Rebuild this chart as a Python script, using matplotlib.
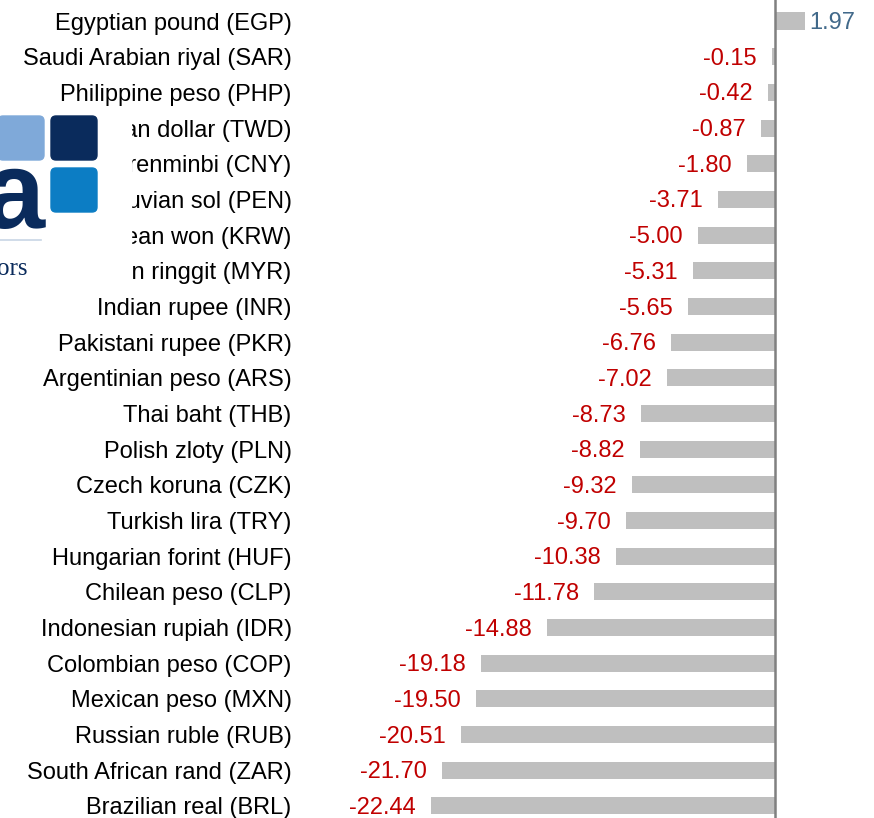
import matplotlib.pyplot as plt
from matplotlib.patches import FancyBboxPatch, Rectangle
import numpy as np

plt.rcParams['font.family'] = ['Liberation Sans', 'DejaVu Sans']

currencies = ['Egyptian pound (EGP)', 'Saudi Arabian riyal (SAR)', 'Philippine peso (PHP)',
              'Taiwan dollar (TWD)', 'Chinese renminbi (CNY)', 'Peruvian sol (PEN)',
              'South Korean won (KRW)', 'Malaysian ringgit (MYR)', 'Indian rupee (INR)',
              'Pakistani rupee (PKR)', 'Argentinian peso (ARS)', 'Thai baht (THB)',
              'Polish zloty (PLN)', 'Czech koruna (CZK)', 'Turkish lira (TRY)',
              'Hungarian forint (HUF)', 'Chilean peso (CLP)', 'Indonesian rupiah (IDR)',
              'Colombian peso (COP)', 'Mexican peso (MXN)', 'Russian ruble (RUB)',
              'South African rand (ZAR)', 'Brazilian real (BRL)']
changes = [1.97, -0.15, -0.42, -0.87, -1.80, -3.71, -5.00, -5.31, -5.65, -6.76, -7.02,
           -8.73, -8.82, -9.32, -9.70, -10.38, -11.78, -14.88, -19.18, -19.50, -20.51,
           -21.70, -22.44]

W, H = 874, 818
fig = plt.figure(figsize=(W / 100, H / 100), dpi=100)
ax = fig.add_axes([300 / W, 0, 1 - 300 / W, 1])

y = np.arange(len(currencies))
ax.barh(y, changes, height=0.48, color='#bfbfbf', zorder=2)
ax.axvline(0, color='#808080', lw=1.8, zorder=3)

for yi, v in zip(y, changes):
    if v < 0:
        ax.annotate(f'{v:.2f}', (v, yi), xytext=(-11, -1.5), textcoords='offset points',
                    ha='right', va='center', fontsize=17, color='#c00000')
    else:
        ax.annotate(f'{v:.2f}', (v, yi), xytext=(3, -1.5), textcoords='offset points',
                    ha='left', va='center', fontsize=17, color='#41698a')

ax.set_xlim(-31, 6.5)
ax.set_ylim(22.34, -0.59)
ax.set_yticks(y)
ax.set_yticklabels(currencies, fontsize=17)
ax.tick_params(axis='y', length=0, pad=6)
ax.set_xticks([])
for s in ax.spines.values():
    s.set_visible(False)

# logo block in the top-left corner (pixel coords, y down)
logo = fig.add_axes([0, 0, 1, 1], facecolor='none')
logo.set_xlim(0, W)
logo.set_ylim(H, 0)
logo.axis('off')
logo.add_patch(Rectangle((0, 108), 131, 182, color='white', zorder=1))
for x0, y0, c in [(-2, 116, '#7fa9d9'), (51, 116, '#0a2b5c'), (51, 168, '#0c7dc4')]:
    logo.add_patch(FancyBboxPatch((x0 + 5, y0 + 5), 36, 34,
                                  boxstyle='round,pad=5', color=c, zorder=2))
logo.text(45, 228, 'a', ha='right', va='baseline', fontsize=79, fontweight='bold',
          color='#0a2b5c', family='Liberation Sans', zorder=3)
logo.plot([0, 41], [240, 240], color='#c8d6e5', lw=1.2, zorder=3)
logo.text(28, 275, 'ors', ha='right', va='baseline', fontsize=18,
          color='#0a2b5c', family='Liberation Serif', zorder=3)

fig.savefig('out.png', dpi=100)
